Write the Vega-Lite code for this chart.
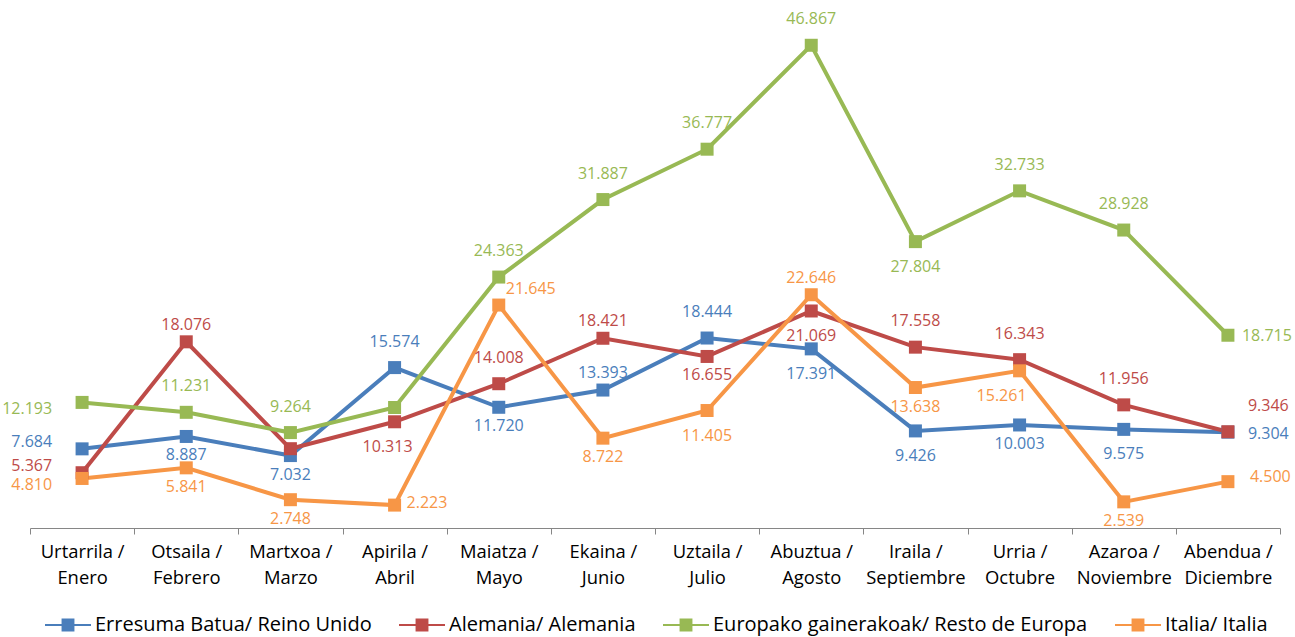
{
  "$schema": "https://vega.github.io/schema/vega-lite/v6.json",
  "width": 1250,
  "height": 515,
  "autosize": {"type": "none"},
  "padding": {"left": 30, "top": 13, "right": 15, "bottom": 109},
  "background": "#ffffff",
  "config": {"view": {"stroke": null}, "font": "Open Sans"},
  "datasets": {
    "meses": [
      {"n": 1, "mes": "Urtarrila / Enero"},
      {"n": 2, "mes": "Otsaila / Febrero"},
      {"n": 3, "mes": "Martxoa / Marzo"},
      {"n": 4, "mes": "Apirila / Abril"},
      {"n": 5, "mes": "Maiatza / Mayo"},
      {"n": 6, "mes": "Ekaina / Junio"},
      {"n": 7, "mes": "Uztaila / Julio"},
      {"n": 8, "mes": "Abuztua / Agosto"},
      {"n": 9, "mes": "Iraila / Septiembre"},
      {"n": 10, "mes": "Urria / Octubre"},
      {"n": 11, "mes": "Azaroa / Noviembre"},
      {"n": 12, "mes": "Abendua / Diciembre"}
    ],
    "series": [
      {"id": "RU", "serie": "Erresuma Batua/ Reino Unido"},
      {"id": "AL", "serie": "Alemania/ Alemania"},
      {"id": "EU", "serie": "Europako gainerakoak/ Resto de Europa"},
      {"id": "IT", "serie": "Italia/ Italia"}
    ],
    "valores": [
      {"id": "RU", "n": 1, "v": 7.684},
      {"id": "RU", "n": 2, "v": 8.887},
      {"id": "RU", "n": 3, "v": 7.032},
      {"id": "RU", "n": 4, "v": 15.574},
      {"id": "RU", "n": 5, "v": 11.720},
      {"id": "RU", "n": 6, "v": 13.393},
      {"id": "RU", "n": 7, "v": 18.444},
      {"id": "RU", "n": 8, "v": 17.391},
      {"id": "RU", "n": 9, "v": 9.426},
      {"id": "RU", "n": 10, "v": 10.003},
      {"id": "RU", "n": 11, "v": 9.575},
      {"id": "RU", "n": 12, "v": 9.304},
      {"id": "AL", "n": 1, "v": 5.367},
      {"id": "AL", "n": 2, "v": 18.076},
      {"id": "AL", "n": 3, "v": 7.7},
      {"id": "AL", "n": 4, "v": 10.313},
      {"id": "AL", "n": 5, "v": 14.008},
      {"id": "AL", "n": 6, "v": 18.421},
      {"id": "AL", "n": 7, "v": 16.655},
      {"id": "AL", "n": 8, "v": 21.069},
      {"id": "AL", "n": 9, "v": 17.558},
      {"id": "AL", "n": 10, "v": 16.343},
      {"id": "AL", "n": 11, "v": 11.956},
      {"id": "AL", "n": 12, "v": 9.346},
      {"id": "EU", "n": 1, "v": 12.193},
      {"id": "EU", "n": 2, "v": 11.231},
      {"id": "EU", "n": 3, "v": 9.264},
      {"id": "EU", "n": 4, "v": 11.7},
      {"id": "EU", "n": 5, "v": 24.363},
      {"id": "EU", "n": 6, "v": 31.887},
      {"id": "EU", "n": 7, "v": 36.777},
      {"id": "EU", "n": 8, "v": 46.867},
      {"id": "EU", "n": 9, "v": 27.804},
      {"id": "EU", "n": 10, "v": 32.733},
      {"id": "EU", "n": 11, "v": 28.928},
      {"id": "EU", "n": 12, "v": 18.715},
      {"id": "IT", "n": 1, "v": 4.810},
      {"id": "IT", "n": 2, "v": 5.841},
      {"id": "IT", "n": 3, "v": 2.748},
      {"id": "IT", "n": 4, "v": 2.223},
      {"id": "IT", "n": 5, "v": 21.645},
      {"id": "IT", "n": 6, "v": 8.722},
      {"id": "IT", "n": 7, "v": 11.405},
      {"id": "IT", "n": 8, "v": 22.646},
      {"id": "IT", "n": 9, "v": 13.638},
      {"id": "IT", "n": 10, "v": 15.261},
      {"id": "IT", "n": 11, "v": 2.539},
      {"id": "IT", "n": 12, "v": 4.500}
    ]
  },
  "data": {"name": "valores"},
  "transform": [
    {"lookup": "n", "from": {"data": {"name": "meses"}, "key": "n", "fields": ["mes"]}},
    {"lookup": "id", "from": {"data": {"name": "series"}, "key": "id", "fields": ["serie"]}},
    {"calculate": "datum.id + datum.n", "as": "k"}
  ],
  "encoding": {
    "x": {
      "field": "mes",
      "type": "nominal",
      "sort": ["Urtarrila / Enero", "Otsaila / Febrero", "Martxoa / Marzo", "Apirila / Abril", "Maiatza / Mayo", "Ekaina / Junio", "Uztaila / Julio", "Abuztua / Agosto", "Iraila / Septiembre", "Urria / Octubre", "Azaroa / Noviembre", "Abendua / Diciembre"],
      "bandPosition": 0.5,
      "scale": {"type": "band", "paddingInner": 0, "paddingOuter": 0},
      "axis": {
        "title": null,
        "labelAngle": 0,
        "tickBand": "extent",
        "labelExpr": "datum.label ? [split(datum.label, ' / ')[0] + ' /', split(datum.label, ' / ')[1]] : ''",
        "labelFont": "Open Sans",
        "labelFontSize": 18.4,
        "labelColor": "#000000",
        "labelLineHeight": 26,
        "labelBaseline": "top",
        "labelPadding": 8,
        "labelLimit": 0,
        "domainColor": "#868686",
        "domainWidth": 1,
        "tickColor": "#868686",
        "tickSize": 6,
        "grid": false
      }
    },
    "y": {
      "field": "v",
      "type": "quantitative",
      "scale": {"domain": [0, 50], "nice": false},
      "axis": null
    },
    "color": {
      "field": "serie",
      "type": "nominal",
      "scale": {
        "domain": ["Erresuma Batua/ Reino Unido", "Alemania/ Alemania", "Europako gainerakoak/ Resto de Europa", "Italia/ Italia"],
        "range": ["#4A7EBB", "#BE4B48", "#98B954", "#F79646"]
      },
      "legend": {
        "orient": "none",
        "legendX": 15,
        "legendY": 589,
        "direction": "horizontal",
        "title": null,
        "symbolType": "M-1,-0.045H1V0.045H-1Z M-0.28,-0.28H0.28V0.28H-0.28Z",
        "symbolSize": 2116,
        "symbolStrokeWidth": 0,
        "labelFont": "Open Sans",
        "labelFontSize": 20,
        "labelColor": "#000000",
        "labelLimit": 0,
        "labelOffset": 4,
        "columnPadding": 27,
        "encode": {
          "symbols": {"update": {"fill": {"scale": "color", "field": "value"}, "stroke": {"value": "transparent"}, "opacity": {"value": 1}}}
        }
      }
    }
  },
  "layer": [
    {"mark": {"type": "line", "strokeWidth": 4}},
    {"mark": {"type": "point", "shape": "square", "filled": true, "size": 169, "opacity": 1}},
    {
      "transform": [{"filter": "indexof(['RU4','RU7','AL5','AL9','AL10','AL11','EU2','EU3','EU5','EU6','EU7','EU8','EU10','EU11'], datum.k) >= 0"}],
      "mark": {"type": "text", "dy": -26, "fontSize": 16, "baseline": "middle", "align": "center"},
      "encoding": {"text": {"field": "v", "type": "quantitative", "format": ".3f"}}
    },
    {
      "transform": [{"filter": "indexof(['AL2','AL6','IT8','RU6'], datum.k) >= 0"}],
      "mark": {"type": "text", "dy": -17, "fontSize": 16, "baseline": "middle", "align": "center"},
      "encoding": {"text": {"field": "v", "type": "quantitative", "format": ".3f"}}
    },
    {
      "transform": [{"filter": "indexof(['RU2','RU3','RU5','RU10','AL7','IT2','IT3','IT6','IT9','IT11'], datum.k) >= 0"}],
      "mark": {"type": "text", "dy": 19, "fontSize": 16, "baseline": "middle", "align": "center"},
      "encoding": {"text": {"field": "v", "type": "quantitative", "format": ".3f"}}
    },
    {
      "transform": [{"filter": "indexof(['RU8','RU9','RU11','AL8','EU9','IT7'], datum.k) >= 0"}],
      "mark": {"type": "text", "dy": 25, "fontSize": 16, "baseline": "middle", "align": "center"},
      "encoding": {"text": {"field": "v", "type": "quantitative", "format": ".3f"}}
    },
    {
      "transform": [{"filter": "datum.k == 'AL4'"}],
      "mark": {"type": "text", "dx": -7, "dy": 25, "fontSize": 16, "baseline": "middle", "align": "center"},
      "encoding": {"text": {"field": "v", "type": "quantitative", "format": ".3f"}}
    },
    {
      "transform": [{"filter": "datum.k == 'IT10'"}],
      "mark": {"type": "text", "dx": -18, "dy": 25, "fontSize": 16, "baseline": "middle", "align": "center"},
      "encoding": {"text": {"field": "v", "type": "quantitative", "format": ".3f"}}
    },
    {
      "transform": [{"filter": "datum.k == 'RU12'"}],
      "mark": {"type": "text", "dx": 20, "dy": 2, "fontSize": 16, "baseline": "middle", "align": "left"},
      "encoding": {"text": {"field": "v", "type": "quantitative", "format": ".3f"}}
    },
    {
      "transform": [{"filter": "datum.k == 'EU12'"}],
      "mark": {"type": "text", "dx": 14, "dy": 1, "fontSize": 16, "baseline": "middle", "align": "left"},
      "encoding": {"text": {"field": "v", "type": "quantitative", "format": ".3f"}}
    },
    {
      "transform": [{"filter": "datum.k == 'IT4'"}],
      "mark": {"type": "text", "dx": 12, "dy": -2, "fontSize": 16, "baseline": "middle", "align": "left"},
      "encoding": {"text": {"field": "v", "type": "quantitative", "format": ".3f"}}
    },
    {
      "transform": [{"filter": "datum.k == 'IT12'"}],
      "mark": {"type": "text", "dx": 22, "dy": -5, "fontSize": 16, "baseline": "middle", "align": "left"},
      "encoding": {"text": {"field": "v", "type": "quantitative", "format": ".3f"}}
    },
    {
      "transform": [{"filter": "datum.k == 'AL12'"}],
      "mark": {"type": "text", "dx": 20, "dy": -26, "fontSize": 16, "baseline": "middle", "align": "left"},
      "encoding": {"text": {"field": "v", "type": "quantitative", "format": ".3f"}}
    },
    {
      "transform": [{"filter": "datum.k == 'IT5'"}],
      "mark": {"type": "text", "dx": 7, "dy": -16, "fontSize": 16, "baseline": "middle", "align": "left"},
      "encoding": {"text": {"field": "v", "type": "quantitative", "format": ".3f"}}
    },
    {
      "transform": [{"filter": "indexof(['RU1','AL1'], datum.k) >= 0"}],
      "mark": {"type": "text", "dx": -30, "dy": -7, "fontSize": 16, "baseline": "middle", "align": "right"},
      "encoding": {"text": {"field": "v", "type": "quantitative", "format": ".3f"}}
    },
    {
      "transform": [{"filter": "indexof(['EU1','IT1'], datum.k) >= 0"}],
      "mark": {"type": "text", "dx": -30, "dy": 7, "fontSize": 16, "baseline": "middle", "align": "right"},
      "encoding": {"text": {"field": "v", "type": "quantitative", "format": ".3f"}}
    }
  ]
}
